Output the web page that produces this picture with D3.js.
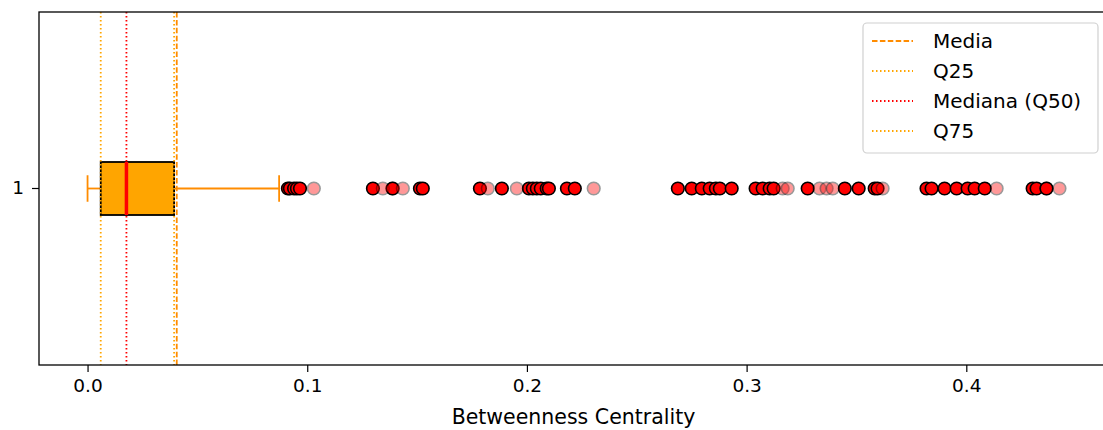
<!DOCTYPE html>
<html>
<head>
<meta charset="utf-8">
<script src="https://cdn.jsdelivr.net/npm/d3@7"></script>
<style>
  body { margin: 0; background: #fff; }
  svg { font-family: "DejaVu Sans", sans-serif; display: block; }
</style>
</head>
<body>
<script>
var width = 1103;
var height = 430;

// box summary (Betweenness Centrality)
var boxStats = { q1: 0.0060, median: 0.0177, q3: 0.0394, low: 0.0, high: 0.0872 };
var meanValue = 0.0406;

// outliers drawn solid and the faint (transparent) ones
var solidPoints = [0.0912, 0.0921, 0.0940, 0.0953, 0.0967, 0.1299, 0.1388, 0.1513, 0.1526,
  0.1786, 0.1886, 0.2009, 0.2027, 0.2045, 0.2063, 0.2090, 0.2100, 0.2182, 0.2218,
  0.2687, 0.2750, 0.2796, 0.2832, 0.2860, 0.2878, 0.2932, 0.3041, 0.3073, 0.3105, 0.3123,
  0.3278, 0.3447, 0.3510, 0.3583, 0.3596, 0.3819, 0.3842, 0.3901, 0.3956, 0.4006, 0.4038,
  0.4084, 0.4302, 0.4320, 0.4365];
var faintPoints = [0.1030, 0.1344, 0.1390, 0.1435, 0.1822, 0.1954, 0.2304, 0.3164, 0.3187,
  0.3332, 0.3364, 0.3392, 0.3619, 0.4138, 0.4365, 0.4424];

var xTicks = [0, 0.1, 0.2, 0.3, 0.4];
var categories = ["1"];

var legendItems = [
  { label: "Media", color: "#ff8c00", dash: "5.5,2.4" },
  { label: "Q25", color: "#ffa500", dash: "1.5,2.5" },
  { label: "Mediana (Q50)", color: "#ff0000", dash: "1.5,2.5" },
  { label: "Q75", color: "#ffa500", dash: "1.5,2.5" }
];

var plot = { left: 39, right: 1108, top: 12, bottom: 365 };

var svg = d3.select("body").append("svg")
  .attr("width", width)
  .attr("height", height);

var x = d3.scaleLinear()
  .domain([-0.0221, 0.4645])
  .range([plot.left, plot.right]);

var y = d3.scaleBand()
  .domain(categories)
  .range([plot.bottom, plot.top]);

var cy = y("1") + y.bandwidth() / 2;
var boxH = 53;

// axes
svg.append("g")
  .attr("transform", "translate(0," + plot.bottom + ")")
  .call(d3.axisBottom(x).tickValues(xTicks).tickFormat(d3.format(".1f")).tickSize(7).tickPadding(7))
  .call(function(g) {
    g.select(".domain").remove();
    g.selectAll("line").attr("stroke", "#000").attr("stroke-width", 1.2);
    g.selectAll("text").attr("font-size", 18.5).attr("fill", "#000").attr("font-family", "DejaVu Sans");
  });

svg.append("g")
  .attr("transform", "translate(" + plot.left + ",0)")
  .call(d3.axisLeft(y).tickSize(7).tickPadding(8))
  .call(function(g) {
    g.select(".domain").remove();
    g.selectAll("line").attr("stroke", "#000").attr("stroke-width", 1.2);
    g.selectAll("text").attr("font-size", 18.5).attr("fill", "#000").attr("font-family", "DejaVu Sans");
  });

// whiskers
svg.append("line")
  .attr("x1", x(boxStats.low)).attr("x2", x(boxStats.q1))
  .attr("y1", cy).attr("y2", cy)
  .attr("stroke", "#ff8c00").attr("stroke-width", 1.8);
svg.append("line")
  .attr("x1", x(boxStats.q3)).attr("x2", x(boxStats.high))
  .attr("y1", cy).attr("y2", cy)
  .attr("stroke", "#ff8c00").attr("stroke-width", 1.8);
svg.selectAll(".cap")
  .data([boxStats.low, boxStats.high])
  .enter().append("line")
  .attr("x1", function(d) { return x(d); })
  .attr("x2", function(d) { return x(d); })
  .attr("y1", cy - boxH / 4).attr("y2", cy + boxH / 4)
  .attr("stroke", "#ff8c00").attr("stroke-width", 1.8);

// box
svg.append("rect")
  .attr("x", x(boxStats.q1))
  .attr("y", cy - boxH / 2)
  .attr("width", x(boxStats.q3) - x(boxStats.q1))
  .attr("height", boxH)
  .attr("fill", "#ffa500")
  .attr("stroke", "#000")
  .attr("stroke-width", 1.8);

svg.append("line")
  .attr("x1", x(boxStats.median)).attr("x2", x(boxStats.median))
  .attr("y1", cy - boxH / 2).attr("y2", cy + boxH / 2)
  .attr("stroke", "#ff0000").attr("stroke-width", 3.5);

// outliers
svg.selectAll(".solid")
  .data(solidPoints)
  .enter().append("circle")
  .attr("cx", function(d) { return x(d); })
  .attr("cy", cy)
  .attr("r", 6.3)
  .attr("fill", "#ff0000")
  .attr("stroke", "#000")
  .attr("stroke-width", 1.6);

svg.selectAll(".faint")
  .data(faintPoints)
  .enter().append("circle")
  .attr("cx", function(d) { return x(d); })
  .attr("cy", cy)
  .attr("r", 6.3)
  .attr("fill", "#ff0000")
  .attr("stroke", "#000")
  .attr("stroke-width", 1.6)
  .attr("opacity", 0.4);

// reference lines
var refLines = [
  { v: boxStats.q1, color: "#ffa500", dash: "1.5,2.5" },
  { v: boxStats.median, color: "#ff0000", dash: "1.5,2.5" },
  { v: boxStats.q3, color: "#ffa500", dash: "1.5,2.5" },
  { v: meanValue, color: "#ff8c00", dash: "5.5,2.4" }
];
svg.selectAll(".ref")
  .data(refLines)
  .enter().append("line")
  .attr("x1", function(d) { return x(d.v); })
  .attr("x2", function(d) { return x(d.v); })
  .attr("y1", plot.top).attr("y2", plot.bottom)
  .attr("stroke", function(d) { return d.color; })
  .attr("stroke-width", 1.8)
  .attr("stroke-dasharray", function(d) { return d.dash; });

// frame
svg.append("rect")
  .attr("x", plot.left).attr("y", plot.top)
  .attr("width", plot.right - plot.left)
  .attr("height", plot.bottom - plot.top)
  .attr("fill", "none")
  .attr("stroke", "#000")
  .attr("stroke-width", 1.3);

// x label
svg.append("text")
  .attr("x", (plot.left + plot.right) / 2)
  .attr("y", 424)
  .attr("text-anchor", "middle")
  .attr("font-size", 20.5)
  .text("Betweenness Centrality");

// legend
var legend = svg.append("g");
legend.append("rect")
  .attr("x", 863).attr("y", 23)
  .attr("width", 235).attr("height", 130)
  .attr("rx", 4)
  .attr("fill", "#fff").attr("fill-opacity", 0.8)
  .attr("stroke", "#d0d0d0").attr("stroke-width", 1.2);

var items = legend.selectAll(".item")
  .data(legendItems)
  .enter().append("g")
  .attr("transform", function(d, i) { return "translate(0," + (41 + i * 30) + ")"; });
items.append("line")
  .attr("x1", 872).attr("x2", 913)
  .attr("stroke", function(d) { return d.color; })
  .attr("stroke-width", 1.8)
  .attr("stroke-dasharray", function(d) { return d.dash; });
items.append("text")
  .attr("x", 933)
  .attr("dy", "0.35em")
  .attr("font-size", 20)
  .text(function(d) { return d.label; });
</script>
</body>
</html>
